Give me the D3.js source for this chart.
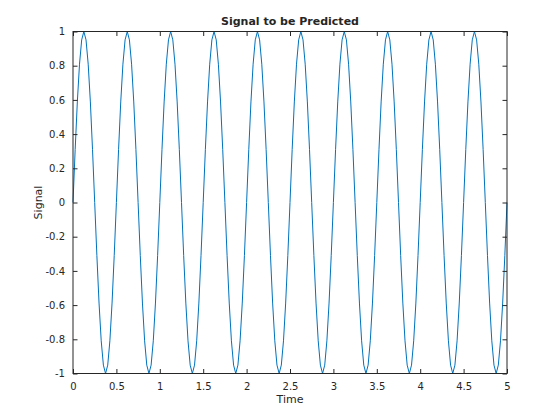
<!DOCTYPE html>
<html><head><meta charset="utf-8">
<script src="https://cdn.jsdelivr.net/npm/d3@7"></script>
<style>body{margin:0;background:#fff}svg{display:block}text{font-family:"DejaVu Sans",sans-serif;fill:#262626}</style>
</head><body><div id="chart"></div>
<script>
const time = [0,0.025,0.05,0.075,0.1,0.125,0.15,0.175,0.2,0.225,0.25,0.275,0.3,0.325,0.35,0.375,0.4,0.425,0.45,0.475,
0.5,0.525,0.55,0.575,0.6,0.625,0.65,0.675,0.7,0.725,0.75,0.775,0.8,0.825,0.85,0.875,0.9,0.925,0.95,0.975,
1,1.025,1.05,1.075,1.1,1.125,1.15,1.175,1.2,1.225,1.25,1.275,1.3,1.325,1.35,1.375,1.4,1.425,1.45,1.475,
1.5,1.525,1.55,1.575,1.6,1.625,1.65,1.675,1.7,1.725,1.75,1.775,1.8,1.825,1.85,1.875,1.9,1.925,1.95,1.975,
2,2.025,2.05,2.075,2.1,2.125,2.15,2.175,2.2,2.225,2.25,2.275,2.3,2.325,2.35,2.375,2.4,2.425,2.45,2.475,
2.5,2.525,2.55,2.575,2.6,2.625,2.65,2.675,2.7,2.725,2.75,2.775,2.8,2.825,2.85,2.875,2.9,2.925,2.95,2.975,
3,3.025,3.05,3.075,3.1,3.125,3.15,3.175,3.2,3.225,3.25,3.275,3.3,3.325,3.35,3.375,3.4,3.425,3.45,3.475,
3.5,3.525,3.55,3.575,3.6,3.625,3.65,3.675,3.7,3.725,3.75,3.775,3.8,3.825,3.85,3.875,3.9,3.925,3.95,3.975,
4,4.025,4.05,4.075,4.1,4.125,4.15,4.175,4.2,4.225,4.25,4.275,4.3,4.325,4.35,4.375,4.4,4.425,4.45,4.475,
4.5,4.525,4.55,4.575,4.6,4.625,4.65,4.675,4.7,4.725,4.75,4.775,4.8,4.825,4.85,4.875,4.9,4.925,4.95,4.975,
5];
const signal = [0,0.309,0.588,0.809,0.951,1,0.951,0.809,0.588,0.309,0,-0.309,-0.588,-0.809,-0.951,-1,-0.951,-0.809,-0.588,-0.309,
0,0.309,0.588,0.809,0.951,1,0.951,0.809,0.588,0.309,0,-0.309,-0.588,-0.809,-0.951,-1,-0.951,-0.809,-0.588,-0.309,
0,0.309,0.588,0.809,0.951,1,0.951,0.809,0.588,0.309,0,-0.309,-0.588,-0.809,-0.951,-1,-0.951,-0.809,-0.588,-0.309,
0,0.309,0.588,0.809,0.951,1,0.951,0.809,0.588,0.309,0,-0.309,-0.588,-0.809,-0.951,-1,-0.951,-0.809,-0.588,-0.309,
0,0.309,0.588,0.809,0.951,1,0.951,0.809,0.588,0.309,0,-0.309,-0.588,-0.809,-0.951,-1,-0.951,-0.809,-0.588,-0.309,
0,0.309,0.588,0.809,0.951,1,0.951,0.809,0.588,0.309,0,-0.309,-0.588,-0.809,-0.951,-1,-0.951,-0.809,-0.588,-0.309,
0,0.309,0.588,0.809,0.951,1,0.951,0.809,0.588,0.309,0,-0.309,-0.588,-0.809,-0.951,-1,-0.951,-0.809,-0.588,-0.309,
0,0.309,0.588,0.809,0.951,1,0.951,0.809,0.588,0.309,0,-0.309,-0.588,-0.809,-0.951,-1,-0.951,-0.809,-0.588,-0.309,
0,0.309,0.588,0.809,0.951,1,0.951,0.809,0.588,0.309,0,-0.309,-0.588,-0.809,-0.951,-1,-0.951,-0.809,-0.588,-0.309,
0,0.309,0.588,0.809,0.951,1,0.951,0.809,0.588,0.309,0,-0.309,-0.588,-0.809,-0.951,-1,-0.951,-0.809,-0.588,-0.309,
0];
const xTicks = [0,0.5,1,1.5,2,2.5,3,3.5,4,4.5,5];
const xTickLabels = ["0","0.5","1","1.5","2","2.5","3","3.5","4","4.5","5"];
const yTicks = [-1,-0.8,-0.6,-0.4,-0.2,0,0.2,0.4,0.6,0.8,1];
const yTickLabels = ["-1","-0.8","-0.6","-0.4","-0.2","0","0.2","0.4","0.6","0.8","1"];
const titleText = "Signal to be Predicted";
const xLabel = "Time";
const yLabel = "Signal";

const W = 560, H = 420;
const L = 73, R = 507, T = 31.5, B = 373.5;
const axisColor = "#262626", lineColor = "#0072BD";
const svg = d3.select("#chart").append("svg").attr("width", W).attr("height", H);
const x = d3.scaleLinear().domain([0,5]).range([L,R]);
const y = d3.scaleLinear().domain([-1,1]).range([B,T]);

const tl = 4.5;
const g = svg.append("g");
// curve
const line = d3.line().x((d,i)=>x(time[i])).y(d=>y(d));
g.append("path").datum(signal).attr("d", line).attr("fill","none").attr("stroke",lineColor).attr("stroke-width",1);

// axes
function styleAxis(sel){
  sel.select(".domain").remove();
  sel.selectAll(".tick line").attr("stroke",axisColor).attr("stroke-width",1);
  sel.selectAll("text").attr("fill",axisColor).style("font-size","10px").style("font-family","DejaVu Sans, sans-serif");
}
const xb = svg.append("g").attr("transform",`translate(0,${B})`)
  .call(d3.axisBottom(x).tickValues(xTicks).tickFormat((d,i)=>xTickLabels[i]).tickSizeInner(-tl).tickSizeOuter(0).tickPadding(9));
styleAxis(xb);
const xt = svg.append("g").attr("transform",`translate(0,${T})`)
  .call(d3.axisTop(x).tickValues(xTicks).tickFormat("").tickSizeInner(-tl).tickSizeOuter(0));
styleAxis(xt);
const yl = svg.append("g").attr("transform",`translate(${L},0)`)
  .call(d3.axisLeft(y).tickValues(yTicks).tickFormat((d,i)=>yTickLabels[i]).tickSizeInner(-tl).tickSizeOuter(0).tickPadding(8));
styleAxis(yl);
const yr = svg.append("g").attr("transform",`translate(${R},0)`)
  .call(d3.axisRight(y).tickValues(yTicks).tickFormat("").tickSizeInner(-tl).tickSizeOuter(0));
styleAxis(yr);

svg.append("rect").attr("x",L).attr("y",T).attr("width",R-L).attr("height",B-T)
  .attr("fill","none").attr("stroke",axisColor).attr("stroke-width",1);

svg.append("text").attr("x",(L+R)/2).attr("y",25).attr("text-anchor","middle")
  .style("font-size","11px").style("font-weight","bold").attr("fill","#000").text(titleText);
svg.append("text").attr("x",(L+R)/2).attr("y",403).attr("text-anchor","middle")
  .style("font-size","11px").text(xLabel);
svg.append("text").attr("transform",`translate(42,${(T+B)/2}) rotate(-90)`).attr("text-anchor","middle")
  .style("font-size","11px").text(yLabel);
</script></body></html>
